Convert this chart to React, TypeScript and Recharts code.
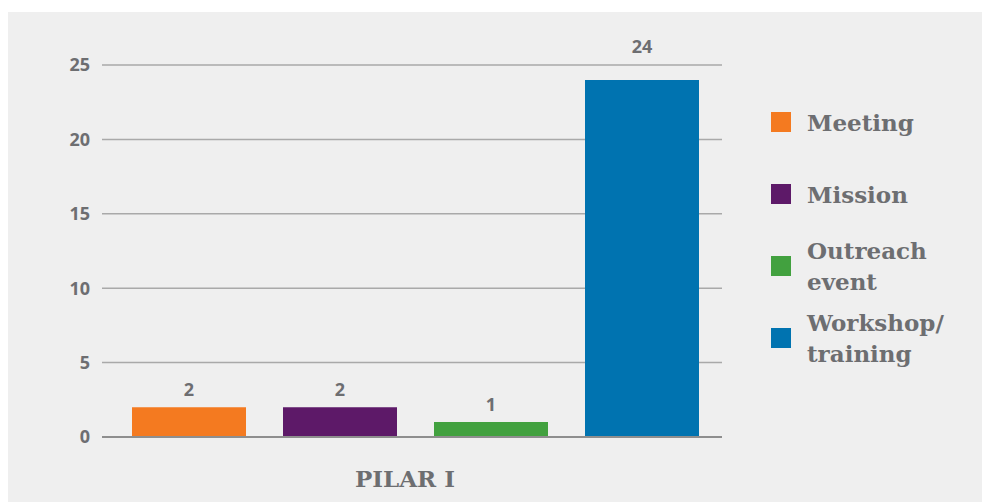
import { BarChart, Bar, XAxis, YAxis, CartesianGrid, LabelList } from 'recharts'

const categories = ['PILAR I']
const seriesNames = ['Meeting', 'Mission', 'Outreach event', 'Workshop/ training']
const seriesKeys = ['meeting', 'mission', 'outreach', 'workshop']
const seriesValues = [2, 2, 1, 24]
const seriesColors = ['#f47a20', '#5d1968', '#42a13f', '#0073b0']
const legendLines = [['Meeting'], ['Mission'], ['Outreach', 'event'], ['Workshop/', 'training']]
const yTicks = [0, 5, 10, 15, 20, 25]

const data = categories.map(name => {
  const row: any = { name }
  seriesKeys.forEach((k, i) => { row[k] = seriesValues[i] })
  return row
})

const GRAY = '#6d6e71'
const SANS = '"Open Sans", "DejaVu Sans", sans-serif'
const SLAB = '"DejaVu Serif", serif'

function ValueLabel(props: any) {
  const { x, y, width, value } = props
  // the tallest bar's label sits above the top gridline
  const dy = value > 23 ? 32 : 16
  return (
    <text x={x + width / 2} y={y - dy} textAnchor="middle" dominantBaseline="middle"
          fill={GRAY} fontFamily={SANS} fontWeight={700} fontSize={18}>
      {value}
    </text>
  )
}

export default function App() {
  return (
    <div style={{ position: 'absolute', left: 8, top: 12, width: 974, height: 490, background: '#efefef' }}>
      <BarChart width={974} height={490} data={data}
                margin={{ top: 53, right: 260, left: 0, bottom: 0 }}
                barSize={114} barGap={37}>
        <CartesianGrid horizontal vertical={false} stroke="#a9a9a9" strokeWidth={1.5} />
        <XAxis dataKey="name" axisLine={{ stroke: '#8e8e8e', strokeWidth: 2 }} tickLine={false}
               height={65} tickMargin={28} padding={{ left: 6, right: 0 }}
               tick={{ fill: GRAY, fontFamily: SLAB, fontWeight: 700, fontSize: 23, dx: -10 }} />
        <YAxis domain={[0, 25]} ticks={yTicks} width={94} axisLine={false} tickLine={false}
               tickSize={0} tickMargin={12}
               tick={{ fill: GRAY, fontFamily: SANS, fontWeight: 700, fontSize: 18 }} />
        {seriesKeys.map((k, i) => (
          <Bar key={k} dataKey={k} name={seriesNames[i]} fill={seriesColors[i]} isAnimationActive={false}>
            <LabelList dataKey={k} content={<ValueLabel />} />
          </Bar>
        ))}
      </BarChart>

      {/* legend */}
      <div style={{ position: 'absolute', left: 763, top: 74, display: 'flex', flexDirection: 'column' }}>
        {legendLines.map((lines, i) => (
          <div key={i} style={{ height: 72, display: 'flex', alignItems: 'center' }}>
            <div style={{ width: 20, height: 20, background: seriesColors[i], marginRight: 16, flexShrink: 0 }} />
            <div style={{ color: GRAY, fontFamily: SLAB, fontWeight: 700, fontSize: 23, lineHeight: '31px' }}>
              {lines.map(l => <div key={l}>{l}</div>)}
            </div>
          </div>
        ))}
      </div>
    </div>
  )
}
